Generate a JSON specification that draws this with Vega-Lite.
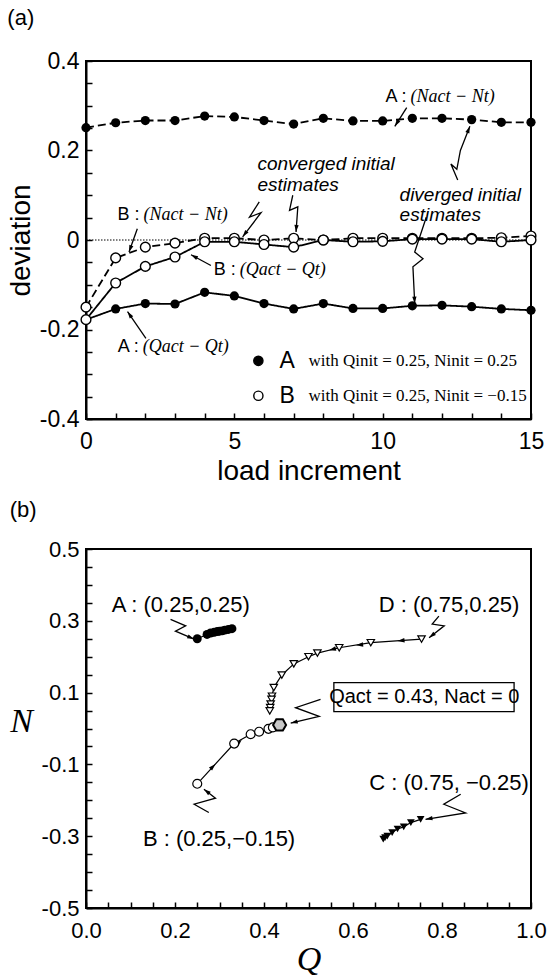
{
  "$schema": "https://vega.github.io/schema/vega-lite/v6.json",
  "background": "white",
  "padding": {"left": 6, "top": 6, "right": 10, "bottom": 0},
  "spacing": 12,
  "config": {
    "font": "Liberation Sans",
    "view": {"stroke": "black", "strokeWidth": 2},
    "axis": {"domainColor": "black", "domainWidth": 2, "tickColor": "black", "tickWidth": 1.5, "tickSize": -6, "labelColor": "black", "titleColor": "black", "grid": false, "labelFont": "Liberation Sans", "titleFont": "Liberation Sans", "titleFontWeight": "normal"},
    "title": {"fontWeight": "normal", "font": "Liberation Sans", "fontSize": 22, "color": "black"},
    "point": {"filled": true, "opacity": 1}
  },
  "datasets": {
    "dev": [
      {"x": 0, "y": 0.251, "s": "AN", "c": "A", "q": "N"}, {"x": 1, "y": 0.262, "s": "AN", "c": "A", "q": "N"}, {"x": 2, "y": 0.267, "s": "AN", "c": "A", "q": "N"}, {"x": 3, "y": 0.267, "s": "AN", "c": "A", "q": "N"}, {"x": 4, "y": 0.277, "s": "AN", "c": "A", "q": "N"}, {"x": 5, "y": 0.275, "s": "AN", "c": "A", "q": "N"}, {"x": 6, "y": 0.267, "s": "AN", "c": "A", "q": "N"}, {"x": 7, "y": 0.259, "s": "AN", "c": "A", "q": "N"}, {"x": 8, "y": 0.272, "s": "AN", "c": "A", "q": "N"}, {"x": 9, "y": 0.266, "s": "AN", "c": "A", "q": "N"}, {"x": 10, "y": 0.266, "s": "AN", "c": "A", "q": "N"}, {"x": 11, "y": 0.272, "s": "AN", "c": "A", "q": "N"}, {"x": 12, "y": 0.272, "s": "AN", "c": "A", "q": "N"}, {"x": 13, "y": 0.269, "s": "AN", "c": "A", "q": "N"}, {"x": 14, "y": 0.263, "s": "AN", "c": "A", "q": "N"}, {"x": 15, "y": 0.263, "s": "AN", "c": "A", "q": "N"},
      {"x": 0, "y": -0.178, "s": "AQ", "c": "A", "q": "Q"}, {"x": 1, "y": -0.154, "s": "AQ", "c": "A", "q": "Q"}, {"x": 2, "y": -0.142, "s": "AQ", "c": "A", "q": "Q"}, {"x": 3, "y": -0.143, "s": "AQ", "c": "A", "q": "Q"}, {"x": 4, "y": -0.117, "s": "AQ", "c": "A", "q": "Q"}, {"x": 5, "y": -0.125, "s": "AQ", "c": "A", "q": "Q"}, {"x": 6, "y": -0.142, "s": "AQ", "c": "A", "q": "Q"}, {"x": 7, "y": -0.154, "s": "AQ", "c": "A", "q": "Q"}, {"x": 8, "y": -0.142, "s": "AQ", "c": "A", "q": "Q"}, {"x": 9, "y": -0.153, "s": "AQ", "c": "A", "q": "Q"}, {"x": 10, "y": -0.153, "s": "AQ", "c": "A", "q": "Q"}, {"x": 11, "y": -0.147, "s": "AQ", "c": "A", "q": "Q"}, {"x": 12, "y": -0.146, "s": "AQ", "c": "A", "q": "Q"}, {"x": 13, "y": -0.149, "s": "AQ", "c": "A", "q": "Q"}, {"x": 14, "y": -0.154, "s": "AQ", "c": "A", "q": "Q"}, {"x": 15, "y": -0.157, "s": "AQ", "c": "A", "q": "Q"},
      {"x": 0, "y": -0.15, "s": "BN", "c": "B", "q": "N"}, {"x": 1, "y": -0.04, "s": "BN", "c": "B", "q": "N"}, {"x": 2, "y": -0.016, "s": "BN", "c": "B", "q": "N"}, {"x": 3, "y": -0.007, "s": "BN", "c": "B", "q": "N"}, {"x": 4, "y": 0.004, "s": "BN", "c": "B", "q": "N"}, {"x": 5, "y": 0.004, "s": "BN", "c": "B", "q": "N"}, {"x": 6, "y": 0.0, "s": "BN", "c": "B", "q": "N"}, {"x": 7, "y": 0.004, "s": "BN", "c": "B", "q": "N"}, {"x": 8, "y": 0.0, "s": "BN", "c": "B", "q": "N"}, {"x": 9, "y": 0.004, "s": "BN", "c": "B", "q": "N"}, {"x": 10, "y": 0.004, "s": "BN", "c": "B", "q": "N"}, {"x": 11, "y": 0.004, "s": "BN", "c": "B", "q": "N"}, {"x": 12, "y": 0.004, "s": "BN", "c": "B", "q": "N"}, {"x": 13, "y": 0.004, "s": "BN", "c": "B", "q": "N"}, {"x": 14, "y": 0.005, "s": "BN", "c": "B", "q": "N"}, {"x": 15, "y": 0.009, "s": "BN", "c": "B", "q": "N"},
      {"x": 0, "y": -0.178, "s": "BQ", "c": "B", "q": "Q"}, {"x": 1, "y": -0.096, "s": "BQ", "c": "B", "q": "Q"}, {"x": 2, "y": -0.059, "s": "BQ", "c": "B", "q": "Q"}, {"x": 3, "y": -0.038, "s": "BQ", "c": "B", "q": "Q"}, {"x": 4, "y": -0.004, "s": "BQ", "c": "B", "q": "Q"}, {"x": 5, "y": -0.004, "s": "BQ", "c": "B", "q": "Q"}, {"x": 6, "y": -0.01, "s": "BQ", "c": "B", "q": "Q"}, {"x": 7, "y": -0.016, "s": "BQ", "c": "B", "q": "Q"}, {"x": 8, "y": 0.0, "s": "BQ", "c": "B", "q": "Q"}, {"x": 9, "y": -0.004, "s": "BQ", "c": "B", "q": "Q"}, {"x": 10, "y": -0.003, "s": "BQ", "c": "B", "q": "Q"}, {"x": 11, "y": 0.002, "s": "BQ", "c": "B", "q": "Q"}, {"x": 12, "y": 0.002, "s": "BQ", "c": "B", "q": "Q"}, {"x": 13, "y": 0.002, "s": "BQ", "c": "B", "q": "Q"}, {"x": 14, "y": -0.004, "s": "BQ", "c": "B", "q": "Q"}, {"x": 15, "y": 0.0, "s": "BQ", "c": "B", "q": "Q"}
    ],
    "callA": [
      {"id": "a1", "o": 1, "x": 10.81, "y": 0.296}, {"id": "a1", "o": 2, "x": 10.41, "y": 0.254},
      {"id": "a4", "o": 1, "x": 1.73, "y": 0.025}, {"id": "a4", "o": 2, "x": 1.45, "y": -0.027},
      {"id": "a5", "o": 1, "x": 4.21, "y": -0.057}, {"id": "a5", "o": 2, "x": 3.54, "y": -0.033},
      {"id": "a6", "o": 1, "x": 2.02, "y": -0.22}, {"id": "a6", "o": 2, "x": 1.4, "y": -0.16},
      {"id": "c1", "o": 1, "x": 5.84, "y": 0.085}, {"id": "c1", "o": 2, "x": 5.51, "y": 0.051}, {"id": "c1", "o": 3, "x": 5.9, "y": 0.061}, {"id": "c1", "o": 4, "x": 5.28, "y": 0.007},
      {"id": "c2", "o": 1, "x": 6.97, "y": 0.1}, {"id": "c2", "o": 2, "x": 6.86, "y": 0.066}, {"id": "c2", "o": 3, "x": 7.14, "y": 0.074}, {"id": "c2", "o": 4, "x": 7.08, "y": 0.018},
      {"id": "d1", "o": 1, "x": 12.53, "y": 0.134}, {"id": "d1", "o": 2, "x": 12.3, "y": 0.17}, {"id": "d1", "o": 3, "x": 12.5, "y": 0.158}, {"id": "d1", "o": 4, "x": 12.62, "y": 0.2}, {"id": "d1", "o": 5, "x": 12.94, "y": 0.254},
      {"id": "d2", "o": 1, "x": 11.47, "y": 0.051}, {"id": "d2", "o": 2, "x": 11.08, "y": -0.027}, {"id": "d2", "o": 3, "x": 11.36, "y": -0.042}, {"id": "d2", "o": 4, "x": 11.02, "y": -0.06}, {"id": "d2", "o": 5, "x": 11.08, "y": -0.142}
    ],
    "labA": [
      {"x": 10.84, "y": 0.319, "pre": "A :", "body": "(Nact − Nt)"},
      {"x": 1.84, "y": 0.056, "pre": "B :", "body": "(Nact − Nt)"},
      {"x": 5.08, "y": -0.067, "pre": "B :", "body": "(Qact − Qt)"},
      {"x": 1.81, "y": -0.238, "pre": "A :", "body": "(Qact − Qt)"}
    ],
    "itA": [
      {"x": 5.78, "y": 0.169, "t": "converged initial"},
      {"x": 5.78, "y": 0.124, "t": "estimates"},
      {"x": 10.57, "y": 0.101, "t": "diverged initial"},
      {"x": 10.57, "y": 0.056, "t": "estimates"}
    ],
    "legA": [
      {"x": 5.81, "y": -0.27, "c": "A", "xt": 6.52, "xw": 7.5, "w": "with Qinit = 0.25, Ninit = 0.25"},
      {"x": 5.81, "y": -0.348, "c": "B", "xt": 6.52, "xw": 7.5, "w": "with Qinit = 0.25, Ninit = −0.15"}
    ],
    "paths": [
      {"p": "A", "o": 1, "x": 0.25, "y": 0.25}, {"p": "A", "o": 2, "x": 0.272, "y": 0.262}, {"p": "A", "o": 3, "x": 0.28, "y": 0.266}, {"p": "A", "o": 4, "x": 0.288, "y": 0.268}, {"p": "A", "o": 5, "x": 0.295, "y": 0.27}, {"p": "A", "o": 6, "x": 0.3, "y": 0.271}, {"p": "A", "o": 7, "x": 0.306, "y": 0.272}, {"p": "A", "o": 8, "x": 0.312, "y": 0.274}, {"p": "A", "o": 9, "x": 0.32, "y": 0.276}, {"p": "A", "o": 10, "x": 0.328, "y": 0.278},
      {"p": "B", "o": 1, "x": 0.25, "y": -0.154}, {"p": "B", "o": 2, "x": 0.333, "y": -0.042}, {"p": "B", "o": 3, "x": 0.37, "y": -0.016}, {"p": "B", "o": 4, "x": 0.389, "y": -0.009}, {"p": "B", "o": 5, "x": 0.41, "y": -0.001}, {"p": "B", "o": 6, "x": 0.42, "y": 0.003},
      {"p": "D", "o": 1, "x": 0.754, "y": 0.249}, {"p": "D", "o": 2, "x": 0.64, "y": 0.239}, {"p": "D", "o": 3, "x": 0.569, "y": 0.225}, {"p": "D", "o": 4, "x": 0.52, "y": 0.21}, {"p": "D", "o": 5, "x": 0.5, "y": 0.2}, {"p": "D", "o": 6, "x": 0.467, "y": 0.18}, {"p": "D", "o": 7, "x": 0.44, "y": 0.149}, {"p": "D", "o": 8, "x": 0.422, "y": 0.114}, {"p": "D", "o": 9, "x": 0.418, "y": 0.09}, {"p": "D", "o": 10, "x": 0.417, "y": 0.081}, {"p": "D", "o": 11, "x": 0.415, "y": 0.068}, {"p": "D", "o": 12, "x": 0.414, "y": 0.058}, {"p": "D", "o": 13, "x": 0.413, "y": 0.049},
      {"p": "C", "o": 1, "x": 0.752, "y": -0.253}, {"p": "C", "o": 2, "x": 0.73, "y": -0.262}, {"p": "C", "o": 3, "x": 0.714, "y": -0.274}, {"p": "C", "o": 4, "x": 0.7, "y": -0.28}, {"p": "C", "o": 5, "x": 0.688, "y": -0.29}, {"p": "C", "o": 6, "x": 0.677, "y": -0.3}, {"p": "C", "o": 7, "x": 0.668, "y": -0.308}, {"p": "C", "o": 8, "x": 0.672, "y": -0.304}
    ],
    "callB": [
      {"id": "A", "o": 1, "x": 0.19, "y": 0.304}, {"id": "A", "o": 2, "x": 0.224, "y": 0.286}, {"id": "A", "o": 3, "x": 0.201, "y": 0.271}, {"id": "A", "o": 4, "x": 0.243, "y": 0.249},
      {"id": "D", "o": 1, "x": 0.793, "y": 0.313}, {"id": "D", "o": 2, "x": 0.778, "y": 0.291}, {"id": "D", "o": 3, "x": 0.805, "y": 0.286}, {"id": "D", "o": 4, "x": 0.771, "y": 0.253},
      {"id": "H", "o": 1, "x": 0.527, "y": 0.081}, {"id": "H", "o": 2, "x": 0.471, "y": 0.058}, {"id": "H", "o": 3, "x": 0.524, "y": 0.034}, {"id": "H", "o": 4, "x": 0.46, "y": 0.015},
      {"id": "C", "o": 1, "x": 0.842, "y": -0.183}, {"id": "C", "o": 2, "x": 0.804, "y": -0.211}, {"id": "C", "o": 3, "x": 0.853, "y": -0.235}, {"id": "C", "o": 4, "x": 0.763, "y": -0.253},
      {"id": "B", "o": 1, "x": 0.276, "y": -0.234}, {"id": "B", "o": 2, "x": 0.243, "y": -0.211}, {"id": "B", "o": 3, "x": 0.291, "y": -0.194}, {"id": "B", "o": 4, "x": 0.265, "y": -0.169}
    ],
    "labB": [
      {"x": 0.213, "y": 0.344, "t": "A : (0.25,0.25)"},
      {"x": 0.816, "y": 0.344, "t": "D : (0.75,0.25)"},
      {"x": 0.816, "y": -0.152, "t": "C : (0.75, −0.25)"},
      {"x": 0.299, "y": -0.308, "t": "B : (0.25,−0.15)"}
    ]
  },
  "vconcat": [
    {
      "title": {"text": "(a)", "anchor": "start", "frame": "bounds", "offset": 20},
      "width": 445,
      "height": 358,
      "encoding": {
        "x": {"field": "x", "type": "quantitative", "scale": {"domain": [0, 15], "nice": false, "zero": false},
          "axis": {"title": "load increment", "values": [0,1,2,3,4,5,6,7,8,9,10,11,12,13,14,15], "labelExpr": "datum.value % 5 == 0 ? datum.label : ''", "labelFontSize": 23, "titleFontSize": 28, "labelPadding": 17, "titlePadding": 4, "labelFlush": false}},
        "y": {"field": "y", "type": "quantitative", "scale": {"domain": [-0.4, 0.4], "nice": false, "zero": false},
          "axis": {"title": "deviation", "values": [-0.4,-0.35,-0.3,-0.25,-0.2,-0.15,-0.1,-0.05,0,0.05,0.1,0.15,0.2,0.25,0.3,0.35,0.4], "labelExpr": "abs(datum.value*5 - round(datum.value*5)) < 0.01 ? (abs(datum.value) < 0.001 ? '0' : replace(format(datum.value, '.1f'), '−', '-')) : ''", "labelFontSize": 23, "titleFontSize": 28, "labelPadding": 13, "titlePadding": 4, "labelFlush": false}}
      },
      "layer": [
        {"data": {"values": [{"x": 0, "y": 0}, {"x": 15, "y": 0}]}, "mark": {"type": "line", "color": "black", "strokeWidth": 1, "strokeDash": [1.5, 1.5]}},
        {"data": {"name": "dev"}, "mark": {"type": "line", "color": "black", "strokeWidth": 1.8},
          "encoding": {"detail": {"field": "s"}, "strokeDash": {"field": "q", "type": "nominal", "scale": {"domain": ["N", "Q"], "range": [[8, 4], [1, 0]]}, "legend": null}}},
        {"data": {"name": "dev"}, "transform": [{"filter": "datum.c == 'A'"}], "mark": {"type": "point", "shape": "circle", "color": "black", "size": 85}},
        {"data": {"name": "dev"}, "transform": [{"filter": "datum.c == 'B'"}], "mark": {"type": "point", "shape": "circle", "fill": "white", "stroke": "black", "strokeWidth": 1.4, "size": 95}},
        {"data": {"name": "callA"}, "mark": {"type": "line", "color": "black", "strokeWidth": 1.3}, "encoding": {"detail": {"field": "id"}, "order": {"field": "o"}}},
        {"data": {"values": [{"x": 10.41, "y": 0.254}]}, "mark": {"type": "point", "shape": "M0,0L-0.55,1.8L0.55,1.8Z", "angle": -147.7, "color": "black", "size": 60}},
        {"data": {"values": [{"x": 1.45, "y": -0.027}]}, "mark": {"type": "point", "shape": "M0,0L-0.55,1.8L0.55,1.8Z", "angle": -160.4, "color": "black", "size": 60}},
        {"data": {"values": [{"x": 3.54, "y": -0.033}]}, "mark": {"type": "point", "shape": "M0,0L-0.55,1.8L0.55,1.8Z", "angle": -61.7, "color": "black", "size": 60}},
        {"data": {"values": [{"x": 1.4, "y": -0.16}]}, "mark": {"type": "point", "shape": "M0,0L-0.55,1.8L0.55,1.8Z", "angle": -34.4, "color": "black", "size": 60}},
        {"data": {"values": [{"x": 5.28, "y": 0.007}]}, "mark": {"type": "point", "shape": "M0,0L-0.55,1.8L0.55,1.8Z", "angle": -142.8, "color": "black", "size": 60}},
        {"data": {"values": [{"x": 7.08, "y": 0.018}]}, "mark": {"type": "point", "shape": "M0,0L-0.55,1.8L0.55,1.8Z", "angle": -175.9, "color": "black", "size": 60}},
        {"data": {"values": [{"x": 12.94, "y": 0.254}]}, "mark": {"type": "point", "shape": "M0,0L-0.55,1.8L0.55,1.8Z", "angle": 21.4, "color": "black", "size": 60}},
        {"data": {"values": [{"x": 11.08, "y": -0.142}]}, "mark": {"type": "point", "shape": "M0,0L-0.55,1.8L0.55,1.8Z", "angle": 177.2, "color": "black", "size": 60}},
        {"data": {"name": "labA"}, "mark": {"type": "text", "align": "right", "baseline": "middle", "dx": -1, "fontSize": 18, "font": "Liberation Sans"}, "encoding": {"text": {"field": "pre"}}},
        {"data": {"name": "labA"}, "mark": {"type": "text", "align": "left", "baseline": "middle", "dx": 3, "fontSize": 18, "font": "Liberation Serif", "fontStyle": "italic"}, "encoding": {"text": {"field": "body"}}},
        {"data": {"name": "itA"}, "mark": {"type": "text", "align": "left", "baseline": "middle", "fontSize": 19, "font": "Liberation Sans", "fontStyle": "italic"}, "encoding": {"text": {"field": "t"}}},
        {"data": {"name": "legA"}, "mark": {"type": "point", "shape": "circle", "stroke": "black", "strokeWidth": 1.4, "size": 85},
          "encoding": {"fill": {"field": "c", "type": "nominal", "scale": {"domain": ["A", "B"], "range": ["black", "white"]}, "legend": null}}},
        {"data": {"name": "legA"}, "mark": {"type": "text", "align": "left", "baseline": "middle", "fontSize": 23, "font": "Liberation Sans"}, "encoding": {"x": {"field": "xt", "type": "quantitative"}, "text": {"field": "c"}}},
        {"data": {"name": "legA"}, "mark": {"type": "text", "align": "left", "baseline": "middle", "fontSize": 17, "font": "Liberation Serif"}, "encoding": {"x": {"field": "xw", "type": "quantitative"}, "text": {"field": "w"}}}
      ]
    },
    {
      "title": {"text": "(b)", "anchor": "start", "frame": "bounds", "offset": 16},
      "width": 445,
      "height": 359,
      "encoding": {
        "x": {"field": "x", "type": "quantitative", "scale": {"domain": [0, 1], "nice": false, "zero": false},
          "axis": {"title": "Q", "titleFont": "Liberation Serif", "titleFontStyle": "italic", "titleFontSize": 34, "values": [0,0.05,0.1,0.15,0.2,0.25,0.3,0.35,0.4,0.45,0.5,0.55,0.6,0.65,0.7,0.75,0.8,0.85,0.9,0.95,1], "labelExpr": "abs(datum.value*5 - round(datum.value*5)) < 0.01 ? format(datum.value, '.1f') : ''", "labelFontSize": 22, "labelPadding": 18, "titlePadding": 1, "labelFlush": false}},
        "y": {"field": "y", "type": "quantitative", "scale": {"domain": [-0.5, 0.5], "nice": false, "zero": false},
          "axis": {"title": "N", "titleFont": "Liberation Serif", "titleFontStyle": "italic", "titleFontSize": 34, "titleAngle": 0, "titleAlign": "center", "titleBaseline": "middle", "titleX": -65, "titleY": 172, "values": [-0.5,-0.45,-0.4,-0.35,-0.3,-0.25,-0.2,-0.15,-0.1,-0.05,0,0.05,0.1,0.15,0.2,0.25,0.3,0.35,0.4,0.45,0.5], "labelExpr": "abs((datum.value+0.5)*5 - round((datum.value+0.5)*5)) < 0.01 ? replace(format(datum.value, '.1f'), '−', '-') : ''", "labelFontSize": 22, "labelPadding": 13, "labelFlush": false}}
      },
      "layer": [
        {"data": {"name": "paths"}, "mark": {"type": "line", "color": "black", "strokeWidth": 1.2}, "encoding": {"detail": {"field": "p"}, "order": {"field": "o"}}},
        {"data": {"values": [{"x": 0.7, "y": 0.244}, {"x": 0.607, "y": 0.232}]}, "mark": {"type": "point", "shape": "M0,0L-0.6,1.9L0.6,1.9Z", "angle": -96, "color": "black", "size": 55}},
        {"data": {"values": [{"x": 0.546, "y": 0.218}]}, "mark": {"type": "point", "shape": "M0,0L-0.6,1.9L0.6,1.9Z", "angle": -104, "color": "black", "size": 55}},
        {"data": {"values": [{"x": 0.291, "y": -0.099}, {"x": 0.35, "y": -0.031}]}, "mark": {"type": "point", "shape": "M0,0L-0.6,1.9L0.6,1.9Z", "angle": 45, "color": "black", "size": 55}},
        {"data": {"name": "paths"}, "transform": [{"filter": "datum.p == 'A'"}], "mark": {"type": "point", "shape": "circle", "color": "black", "size": 80}},
        {"data": {"name": "paths"}, "transform": [{"filter": "datum.p == 'B'"}], "mark": {"type": "point", "shape": "circle", "fill": "white", "stroke": "black", "strokeWidth": 1.2, "size": 80}},
        {"data": {"name": "paths"}, "transform": [{"filter": "datum.p == 'D'"}], "mark": {"type": "point", "shape": "triangle-down", "fill": "white", "stroke": "black", "strokeWidth": 1.2, "size": 55}},
        {"data": {"name": "paths"}, "transform": [{"filter": "datum.p == 'C'"}], "mark": {"type": "point", "shape": "triangle-down", "color": "black", "size": 60}},
        {"data": {"values": [{"x": 0.435, "y": 0.01}]}, "mark": {"type": "point", "shape": "M-1,0L-0.5,-0.866L0.5,-0.866L1,0L0.5,0.866L-0.5,0.866Z", "fill": "#c8c8c8", "stroke": "black", "strokeWidth": 2, "size": 170}},
        {"data": {"name": "callB"}, "mark": {"type": "line", "color": "black", "strokeWidth": 1.3}, "encoding": {"detail": {"field": "id"}, "order": {"field": "o"}}},
        {"data": {"values": [{"x": 0.243, "y": 0.249}]}, "mark": {"type": "point", "shape": "M0,0L-0.55,1.8L0.55,1.8Z", "angle": 112.9, "color": "black", "size": 60}},
        {"data": {"values": [{"x": 0.771, "y": 0.253}]}, "mark": {"type": "point", "shape": "M0,0L-0.55,1.8L0.55,1.8Z", "angle": -128, "color": "black", "size": 60}},
        {"data": {"values": [{"x": 0.46, "y": 0.015}]}, "mark": {"type": "point", "shape": "M0,0L-0.55,1.8L0.55,1.8Z", "angle": -103.4, "color": "black", "size": 60}},
        {"data": {"values": [{"x": 0.763, "y": -0.253}]}, "mark": {"type": "point", "shape": "M0,0L-0.55,1.8L0.55,1.8Z", "angle": -99.2, "color": "black", "size": 60}},
        {"data": {"values": [{"x": 0.265, "y": -0.169}]}, "mark": {"type": "point", "shape": "M0,0L-0.55,1.8L0.55,1.8Z", "angle": -52.2, "color": "black", "size": 60}},
        {"data": {"name": "labB"}, "mark": {"type": "text", "align": "center", "baseline": "middle", "fontSize": 22, "font": "Liberation Sans"}, "encoding": {"text": {"field": "t"}}},
        {"data": {"values": [{"x": 0.557, "x2": 0.962, "y": 0.047, "y2": 0.128}]}, "mark": {"type": "rect", "fill": "white", "stroke": "black", "strokeWidth": 1.3}, "encoding": {"x2": {"field": "x2"}, "y2": {"field": "y2"}}},
        {"data": {"values": [{"x": 0.76, "y": 0.087, "t": "Qact = 0.43, Nact = 0"}]}, "mark": {"type": "text", "align": "center", "baseline": "middle", "fontSize": 20, "font": "Liberation Sans"}, "encoding": {"text": {"field": "t"}}}
      ]
    }
  ]
}
